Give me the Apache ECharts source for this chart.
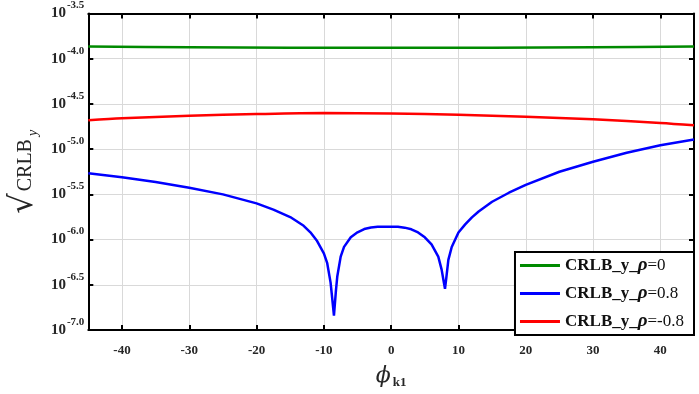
<!DOCTYPE html>
<html>
<head>
<meta charset="utf-8">
<script src="https://cdn.jsdelivr.net/npm/echarts@6/dist/echarts.min.js"></script>
<style>
  html, body { margin: 0; padding: 0; background: #fff; }
  #chart { width: 699px; height: 394px; }
</style>
</head>
<body>
<div id="chart"></div>
<script>
// values are log10 of sqrt(CRLB_y)
const xTicks = [-40, -30, -20, -10, 0, 10, 20, 30, 40];

const greenX = [-45, -30, -15, 0, 15, 30, 45];
const greenY = [-3.866, -3.874, -3.879, -3.880, -3.879, -3.874, -3.866];

const redX = [-45, -40, -30, -20, -10, 0, 10, 20, 30, 40, 45];
const redY = [-4.681, -4.659, -4.630, -4.612, -4.601, -4.605, -4.620, -4.641, -4.670, -4.710, -4.736];

const blueX = [-45, -40, -35, -30, -25, -20, -17.5, -15, -13, -12, -11, -10, -9.5, -9, -8.8, -8.5, -8.2, -8, -7.5,
  -7, -6, -5, -4, -3, -2, -1, 0, 1, 2, 3, 4, 5, 6, 7, 7.5, 7.8, 8, 8.2, 8.5, 9, 10, 11, 12, 13, 15, 17.5, 20, 25,
  30, 35, 40, 45];
const blueY = [-5.267, -5.310, -5.364, -5.428, -5.500, -5.600, -5.669, -5.751, -5.848, -5.920, -6.017, -6.153,
  -6.261, -6.476, -6.62, -6.84, -6.56, -6.405, -6.189, -6.081, -5.974, -5.920, -5.884, -5.866, -5.859, -5.857,
  -5.857, -5.859, -5.868, -5.886, -5.921, -5.975, -6.054, -6.189, -6.332, -6.46, -6.545, -6.42, -6.225, -6.082,
  -5.921, -5.832, -5.754, -5.689, -5.582, -5.482, -5.396, -5.250, -5.139, -5.039, -4.957, -4.893];

const names = ['CRLB_y_ρ=0', 'CRLB_y_ρ=0.8', 'CRLB_y_ρ=-0.8'];
const colors = ['#008a00', '#0000ff', '#ff0000'];

const serif = '"Liberation Serif", "DejaVu Serif", serif';
const txt = '#262626';

function pairs(xs, ys) {
  return xs.map((x, i) => [x, ys[i]]);
}

const chart = echarts.init(document.getElementById('chart'));

const frame = { show: true, onZero: false, lineStyle: { color: '#000', width: 2 } };
const ticksIn = { show: true, inside: true, length: 5, lineStyle: { color: '#000', width: 2 } };

const option = {
  animation: false,
  grid: { left: 86, right: 5, top: 10, bottom: 59 },
  xAxis: [
    {
      type: 'value',
      min: -45,
      max: 45,
      axisLine: frame,
      axisTick: Object.assign({ customValues: xTicks }, ticksIn),
      splitLine: { show: true, lineStyle: { color: '#d9d9d9', width: 1 } },
      axisLabel: {
        customValues: xTicks,
        margin: 14,
        color: txt,
        fontFamily: serif,
        fontWeight: 'bold',
        fontSize: 13
      },
      name: '{p|ϕ}{s|k1}',
      nameLocation: 'middle',
      nameGap: 34,
      nameTextStyle: {
        rich: {
          p: { fontFamily: '"DejaVu Serif", serif', fontStyle: 'italic', fontSize: 22, color: txt },
          s: { fontFamily: serif, fontSize: 13, fontWeight: 'bold', color: txt, padding: [12, 0, 0, 2] }
        }
      }
    },
    {
      type: 'value',
      position: 'top',
      min: -45,
      max: 45,
      axisLine: frame,
      axisTick: Object.assign({ customValues: xTicks }, ticksIn),
      axisLabel: { show: false },
      splitLine: { show: false }
    }
  ],
  yAxis: [
    {
      type: 'value',
      min: -7,
      max: -3.5,
      interval: 0.5,
      axisLine: frame,
      axisTick: ticksIn,
      splitLine: { show: true, lineStyle: { color: '#d9d9d9', width: 1 } },
      axisLabel: {
        margin: 4,
        formatter: (v) => '{b|10}{s|' + v.toFixed(1) + '}',
        rich: {
          b: { fontFamily: serif, fontWeight: 'bold', fontSize: 15, lineHeight: 15, color: txt },
          s: { fontFamily: serif, fontWeight: 'bold', fontSize: 11, lineHeight: 11, color: txt, padding: [0, 0, 16, 1] }
        }
      },
      name: '{q|√}{t|CRLB}{s|y}',
      nameLocation: 'middle',
      nameRotate: 90,
      nameGap: 46,
      nameTextStyle: {
        rich: {
          q: { fontFamily: '"DejaVu Serif", serif', fontSize: 32, color: txt },
          t: { fontFamily: serif, fontSize: 20, color: txt, padding: [4, 0, 0, 2] },
          s: { fontFamily: serif, fontStyle: 'italic', fontSize: 14, color: txt, padding: [18, 0, 0, 3] }
        }
      }
    },
    {
      type: 'value',
      position: 'right',
      min: -7,
      max: -3.5,
      interval: 0.5,
      axisLine: frame,
      axisTick: ticksIn,
      axisLabel: { show: false },
      splitLine: { show: false }
    }
  ],
  legend: {
    orient: 'vertical',
    right: 5,
    bottom: 59,
    data: names,
    icon: 'rect',
    itemWidth: 40,
    itemHeight: 3,
    itemGap: 9,
    padding: [4, 10, 4, 5],
    backgroundColor: '#fff',
    borderColor: '#000',
    borderWidth: 2,
    borderRadius: 0,
    formatter: (name) => {
      const parts = name.split('ρ');
      return '{a|' + parts[0] + '}{r|ρ}{b|' + parts[1] + '}';
    },
    textStyle: {
      rich: {
        a: { fontFamily: serif, fontWeight: 'bold', fontSize: 17, color: '#111', lineHeight: 18 },
        r: { fontFamily: serif, fontWeight: 'bold', fontStyle: 'italic', fontSize: 19, color: '#111', lineHeight: 18 },
        b: { fontFamily: serif, fontSize: 17, color: '#111', lineHeight: 18 }
      }
    }
  },
  series: [
    { name: names[0], type: 'line', data: pairs(greenX, greenY), color: colors[0], smooth: 0.3 },
    { name: names[1], type: 'line', data: pairs(blueX, blueY), color: colors[1], smooth: false },
    { name: names[2], type: 'line', data: pairs(redX, redY), color: colors[2], smooth: 0.3 }
  ].map((s) => Object.assign(s, {
    showSymbol: false,
    symbol: 'none',
    lineStyle: { width: 2.5 },
    xAxisIndex: 0,
    yAxisIndex: 0
  }))
};

chart.setOption(option);
</script>
</body>
</html>
